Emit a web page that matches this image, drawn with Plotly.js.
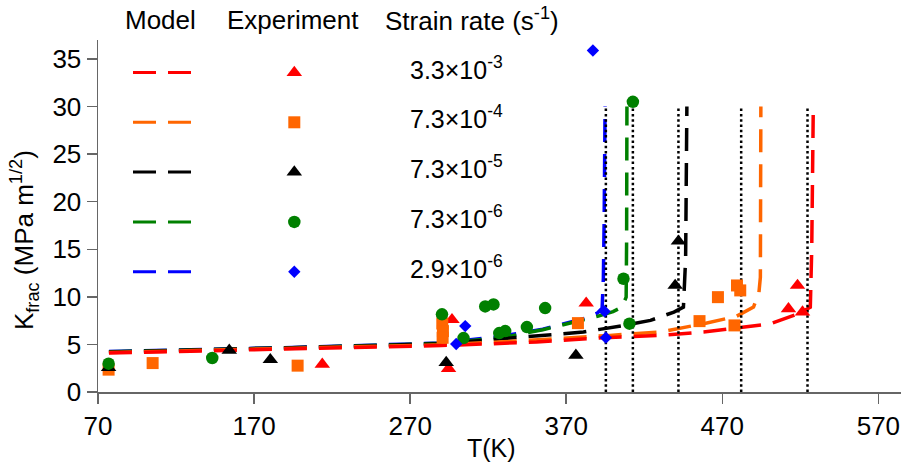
<!DOCTYPE html>
<html>
<head>
<meta charset="utf-8">
<script src="https://cdn.plot.ly/plotly-3.0.1.min.js"></script>
<style>html,body{margin:0;padding:0;background:#fff;}#chart{width:911px;height:473px;}</style>
</head>
<body>
<div id="chart"></div>
<script>
// ---------- data ----------
const seriesNames = ["3.3×10<sup>-3</sup>", "7.3×10<sup>-4</sup>", "7.3×10<sup>-5</sup>", "7.3×10<sup>-6</sup>", "2.9×10<sup>-6</sup>"];
const seriesColors = ["#FF0000", "#FF6600", "#000000", "#008000", "#0000FF"];
const seriesSymbols = ["triangle-up", "square", "triangle-up", "circle", "diamond"];

// Model curves (T in K, Kfrac in MPa m^1/2)
const modelRedT = [77, 105, 150, 200, 250, 290, 351, 394, 430, 458, 501, 520, 526.4, 527.3, 528.3];
const modelRedK = [4.1, 4.2, 4.32, 4.5, 4.7, 4.88, 5.25, 5.71, 5.95, 6.3, 7.18, 8.3, 8.92, 15, 30];
const modelOrangeT = [77, 105, 150, 200, 250, 290, 330, 368, 398, 430, 458, 479, 490, 493.5, 494.4, 494.7];
const modelOrangeK = [4.15, 4.25, 4.38, 4.56, 4.78, 4.97, 5.27, 5.6, 5.95, 6.3, 7.18, 7.95, 8.92, 10.5, 12.07, 30];
const modelBlackT = [77, 105, 150, 200, 250, 290, 330, 358, 381, 407, 424, 439, 445.1, 446.5, 447.3];
const modelBlackK = [4.2, 4.3, 4.44, 4.63, 4.87, 5.08, 5.64, 5.95, 6.3, 7.0, 7.53, 8.4, 8.92, 14, 30];
const modelGreenT = [77, 105, 150, 200, 250, 290, 330, 355, 390, 400, 405.7, 408.4, 408.7, 408.9];
const modelGreenK = [4.22, 4.32, 4.47, 4.67, 4.92, 5.12, 5.75, 6.55, 7.95, 8.45, 8.92, 9.97, 16, 30];
const modelBlueT = [77, 105, 150, 200, 250, 290, 328, 355, 383, 390, 393, 393.8, 394.3, 394.9];
const modelBlueK = [4.25, 4.35, 4.5, 4.7, 4.95, 5.15, 5.85, 6.6, 7.8, 8.3, 8.8, 12, 18, 30];

// Critical temperatures (dotted lines)
const criticalT = [395.4, 412.7, 441.9, 482.1, 524.6];
const criticalK = [0, 30];

// Experiments
const expRedT = [213.7, 294.6, 296.8, 382.8, 512.4, 518.2, 521.4];
const expRedK = [2.91, 2.46, 7.6, 9.34, 8.75, 11.2, 8.4];
const expOrangeT = [76.8, 105, 197.9, 290.6, 291.0, 290.8, 377.5, 455.4, 467.2, 477.8, 479.4, 481.5];
const expOrangeK = [2.35, 3.04, 2.77, 7.2, 6.4, 5.7, 7.24, 7.45, 9.97, 7.0, 11.2, 10.68];
const expBlackT = [76.8, 154.1, 180.4, 293.1, 376.2, 439.8, 441.9];
const expBlackK = [2.56, 4.38, 3.4, 3.1, 3.85, 11.2, 15.85];
const expGreenT = [76.8, 143.2, 290.4, 304.2, 318.1, 323.4, 327.1, 330.9, 344.8, 356.5, 406.7, 410.5, 412.7];
const expGreenK = [2.98, 3.57, 8.16, 5.67, 9.0, 9.21, 6.19, 6.4, 6.82, 8.82, 11.9, 7.18, 30.5];
const expBlueT = [299.5, 305.3, 387.1, 394.6, 395.4];
const expBlueK = [5.05, 6.93, 35.9, 8.47, 5.71];

const xTicks = [70, 170, 270, 370, 470, 570];
const yTicks = [0, 5, 10, 15, 20, 25, 30, 35];

// ---------- styles / layout constants ----------
const FONT = "Arial, 'Liberation Sans', sans-serif";
const lineDash = "23px,12px";
const modelWidth = 3.5;
const markerSizes = [13.5, 12, 13.5, 12.5, 9.5];
const PW = 803, PH = 352; // plot area size in px

const models = [
  {T: modelBlueT, K: modelBlueK, c: 4},
  {T: modelGreenT, K: modelGreenK, c: 3},
  {T: modelBlackT, K: modelBlackK, c: 2},
  {T: modelOrangeT, K: modelOrangeK, c: 1},
  {T: modelRedT, K: modelRedK, c: 0}
];
const exps = [
  {T: expRedT, K: expRedK, c: 0},
  {T: expOrangeT, K: expOrangeK, c: 1},
  {T: expBlackT, K: expBlackK, c: 2},
  {T: expGreenT, K: expGreenK, c: 3},
  {T: expBlueT, K: expBlueK, c: 4}
];

const traces = [];
models.forEach(m => traces.push({
  x: m.T, y: m.K, type: 'scatter', mode: 'lines',
  line: {color: seriesColors[m.c], width: modelWidth, dash: lineDash},
  hoverinfo: 'skip', showlegend: false
}));
criticalT.forEach(t => traces.push({
  x: [t, t], y: criticalK, type: 'scatter', mode: 'lines',
  line: {color: '#000', width: 2.5, dash: '2.5px,2.8px'},
  hoverinfo: 'skip', showlegend: false
}));
exps.forEach(e => traces.push({
  x: e.T, y: e.K, type: 'scatter', mode: 'markers',
  marker: {color: seriesColors[e.c], symbol: seriesSymbols[e.c], size: markerSizes[e.c]},
  showlegend: false, cliponaxis: false
}));

// custom legend on hidden overlay axes (pixel offsets inside the plot area)
const legRow0 = 32.5, legStep = 49.8;
const legLineX = [35, 93], legMarkX = 196.3, legTextX = 358.7;
const annotations = [];
seriesNames.forEach((name, i) => {
  const y = legRow0 + i * legStep;
  traces.push({
    x: legLineX, y: [y, y], xaxis: 'x2', yaxis: 'y2', type: 'scatter', mode: 'lines',
    line: {color: seriesColors[i], width: 3, dash: lineDash}, hoverinfo: 'skip', showlegend: false
  });
  traces.push({
    x: [legMarkX], y: [y], xaxis: 'x2', yaxis: 'y2', type: 'scatter', mode: 'markers',
    marker: {color: seriesColors[i], symbol: seriesSymbols[i], size: markerSizes[i]},
    hoverinfo: 'skip', showlegend: false
  });
  annotations.push({
    xref: 'x2', yref: 'y2', x: legTextX, y: y - 5, text: name, showarrow: false,
    xanchor: 'center', yanchor: 'middle', font: {family: FONT, size: 25, color: '#000'}
  });
});
[["Model", 62], ["Experiment", 195], ["Strain rate (s<sup>-1</sup>)", 373.5]].forEach(h => {
  annotations.push({
    xref: 'paper', yref: 'paper', x: h[1] / PW, y: 1 + 20 / PH, text: h[0], showarrow: false,
    xanchor: 'center', yanchor: 'middle', font: {family: FONT, size: 26, color: '#000'}
  });
});
annotations.push({
  xref: 'paper', yref: 'paper', x: -0.092, y: 0.432, textangle: -90,
  text: "K<sub>frac</sub> (MPa m<sup>1/2</sup>)", showarrow: false,
  xanchor: 'center', yanchor: 'middle', font: {family: FONT, size: 26, color: '#000'}
});
annotations.push({
  xref: 'paper', yref: 'paper', x: 0.49, y: -0.159, text: "T(K)", showarrow: false,
  xanchor: 'center', yanchor: 'middle', font: {family: FONT, size: 25, color: '#000'}
});

const axisCommon = {
  showgrid: false, zeroline: false, showline: true, linecolor: '#666', linewidth: 1.5,
  ticks: 'outside', ticklen: 10, tickwidth: 1.5, tickcolor: '#666',
  tickfont: {family: FONT, size: 26, color: '#000'}
};

const layout = {
  width: 911, height: 473,
  margin: {l: 98, r: 10, t: 40, b: 81},
  paper_bgcolor: '#fff', plot_bgcolor: '#fff',
  showlegend: false,
  xaxis: Object.assign({}, axisCommon, {range: [70, 584.5], tickvals: xTicks, ticktext: xTicks.map(String)}),
  yaxis: Object.assign({}, axisCommon, {range: [0, 37], tickvals: yTicks, ticktext: yTicks.map(String)}),
  xaxis2: {overlaying: 'x', anchor: 'y2', range: [0, PW], visible: false, fixedrange: true},
  yaxis2: {overlaying: 'y', anchor: 'x2', range: [PH, 0], visible: false, fixedrange: true},
  annotations: annotations
};

Plotly.newPlot('chart', traces, layout, {displayModeBar: false, staticPlot: true});
</script>
</body>
</html>
